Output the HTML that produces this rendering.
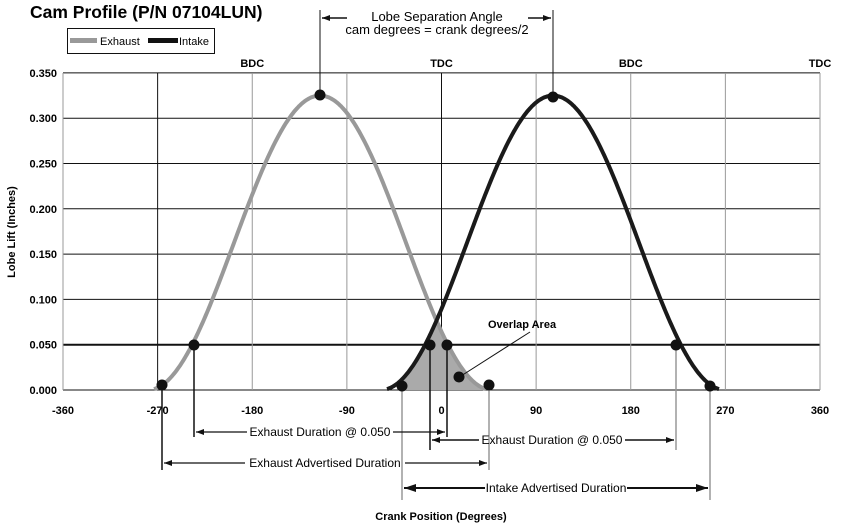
<!DOCTYPE html>
<html><head><style>
body{margin:0;background:#fff}
svg{display:block}
text{font-family:"Liberation Sans Narrow","Liberation Sans",sans-serif}
.t{font-weight:bold;font-size:11px}
</style></head><body>
<svg id="s" width="841" height="531" viewBox="0 0 841 531" xmlns="http://www.w3.org/2000/svg">
<defs>
<marker id="al" markerWidth="8" markerHeight="6" refX="8" refY="3" orient="auto-start-reverse" markerUnits="userSpaceOnUse"><path d="M0,0 L8,3 L0,6 Z" fill="#111"/></marker>
<marker id="ab" markerWidth="12" markerHeight="8" refX="12" refY="4" orient="auto-start-reverse" markerUnits="userSpaceOnUse"><path d="M0,0 L12,4 L0,8 Z" fill="#111"/></marker>
</defs>
<text x="30" y="18" font-weight="bold" font-size="17.5" style="font-family:'Liberation Sans',sans-serif">Cam Profile (P/N 07104LUN)</text>
<rect x="67.5" y="28.5" width="147" height="25" fill="#fff" stroke="#111"/>
<rect x="70" y="38" width="27" height="5" fill="#999"/>
<text x="100" y="45" font-size="11" style="font-family:'Liberation Sans',sans-serif">Exhaust</text>
<rect x="148" y="38" width="30" height="5" fill="#111"/>
<text x="179" y="45" font-size="11" style="font-family:'Liberation Sans',sans-serif">Intake</text>
</svg>
<script>
const s=document.getElementById('s'),NS='http://www.w3.org/2000/svg';
function el(t,a,txt,p){const e=document.createElementNS(NS,t);for(const k in a)e.setAttribute(k,a[k]);if(txt!=null)e.textContent=txt;(p||s).appendChild(e);return e;}
const X=d=>441.5+d*757/720, Y=v=>390-v/0.05*45.3;
for(let i=0;i<=7;i++){const y=Y(i*0.05);el('line',{x1:63,x2:820,y1:y,y2:y,stroke:'#111','stroke-width':i==1?2:1});
el('text',{x:57,y:y+4,'text-anchor':'end',class:'t'},(i*0.05).toFixed(3));}
for(let d=-360;d<=360;d+=90){const x=X(d);const blk=(d==-270||d==0);
el('line',{x1:x,x2:x,y1:73,y2:390,stroke:blk?'#111':'#999','stroke-width':1});
el('text',{x:x,y:414,'text-anchor':'middle',class:'t'},String(d));}
[[-180,'BDC'],[0,'TDC'],[180,'BDC'],[360,'TDC']].forEach(([d,t])=>el('text',{x:X(d),y:67,'text-anchor':'middle',class:'t','font-size':10},t));
const W=172,A=0.325;
function lift(x,c){const d=Math.abs(x-c);return d>W?null:A*(0.5+0.5*Math.cos(Math.PI*d/W));}
function path(c){let p='';for(let x=c-W+6;x<=c+W-6;x+=1){p+=(p?'L':'M')+x.toFixed(1)+','+Y(lift(x,c)).toFixed(1);}return p;}
const ce=320,ci=553;
let f='M402,390';for(let x=402;x<=492;x++){const a=lift(x,ce)||0,b=lift(x,ci)||0;f+='L'+x+','+Y(Math.min(a,b)).toFixed(1);}f+='L492,390Z';
el('path',{d:f,fill:'#aaa'});
el('path',{d:path(ce),fill:'none',stroke:'#999','stroke-width':4});
el('path',{d:path(ci),fill:'none',stroke:'#1a1a1a','stroke-width':4});
el('line',{x1:ce,x2:ce,y1:10,y2:95,stroke:'#111'});el('line',{x1:ci,x2:ci,y1:10,y2:95,stroke:'#111'});
el('line',{x1:347,x2:322,y1:18,y2:18,stroke:'#111','stroke-width':1.5,'marker-end':'url(#al)'});
el('line',{x1:528,x2:551,y1:18,y2:18,stroke:'#111','stroke-width':1.5,'marker-end':'url(#al)'});
el('text',{x:437,y:21,'text-anchor':'middle','font-size':13,style:"font-family:'Liberation Sans',sans-serif"},'Lobe Separation Angle');
el('text',{x:437,y:34,'text-anchor':'middle','font-size':13,style:"font-family:'Liberation Sans',sans-serif"},'cam degrees = crank degrees/2');
[[194,345,437,'#111'],[447,345,437,'#111'],[430,345,450,'#111'],[676,345,450,'#999'],[162,386,470,'#111'],[489,386,470,'#999'],[402,386,500,'#999'],[710,386,500,'#999']].forEach(([x,a,b,c])=>el('line',{x1:x,x2:x,y1:a,y2:b,stroke:c,'stroke-width':1.5}));
[[320,95],[553,97],[162,385],[194,345],[489,385],[447,345],[402,386],[430,345],[676,345],[710,386],[459,377]].forEach(([x,y])=>el('circle',{cx:x,cy:y,r:5.5,fill:'#111'}));
el('line',{x1:530,x2:461,y1:332,y2:376,stroke:'#111'});
el('text',{x:488,y:328,class:'t','font-size':12},'Overlap Area');
function arr(x1,x2,y,txt,tx,tw,sw,m){el('line',{x1:x1+1,x2:tx-tw/2-4,y1:y,y2:y,stroke:'#111','stroke-width':sw,'marker-start':'url(#'+m+')'});
el('line',{x1:tx+tw/2+4,x2:x2-1,y1:y,y2:y,stroke:'#111','stroke-width':sw,'marker-end':'url(#'+m+')'});
el('text',{x:tx,y:y+4,'text-anchor':'middle','font-size':12},txt);}
arr(195,446,432,'Exhaust Duration @ 0.050',320,138,1.2,'al');
arr(431,675,440,'Exhaust Duration @ 0.050',552,138,1.5,'al');
arr(163,488,463,'Exhaust Advertised Duration',325,152,1.2,'al');
arr(403,709,488,'Intake Advertised Duration',556,134,2,'ab');
el('text',{x:441,y:520,'text-anchor':'middle',class:'t','font-size':12},'Crank Position (Degrees)');
el('text',{x:0,y:0,'text-anchor':'middle',class:'t','font-size':11,transform:'translate(15,232) rotate(-90)'},'Lobe Lift (Inches)');
</script>
</body></html>
